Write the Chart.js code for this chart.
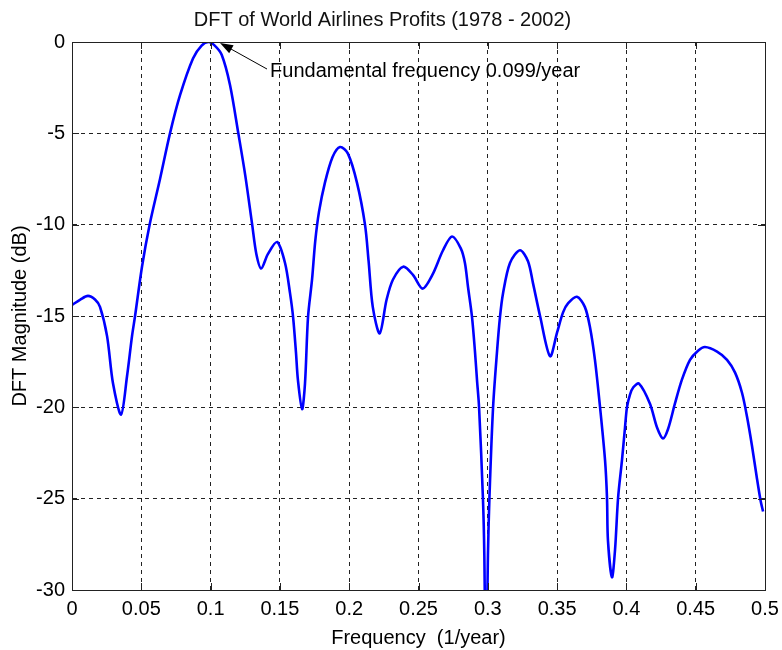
<!DOCTYPE html>
<html>
<head>
<meta charset="utf-8">
<script src="https://cdn.jsdelivr.net/npm/chart.js@4/dist/chart.umd.min.js"></script>
<style>
	html, body { margin: 0; padding: 0; background: #fff; }
	canvas { display: block; }
</style>
</head>
<body>
<canvas id="chart" width="782" height="650"></canvas>
<script>
// frequency (1/year) and DFT magnitude (dB)
let freq = [0, 0.006, 0.0115, 0.0166, 0.0202, 0.0253, 0.0296, 0.0354, 0.0397, 0.0433,
	0.0455, 0.0505, 0.056, 0.0635, 0.0707, 0.078, 0.0873, 0.0935,
	0.0985, 0.103, 0.108, 0.114, 0.12, 0.125, 0.13, 0.133, 0.1365, 0.1414,
	0.148, 0.1537, 0.1573, 0.1595, 0.1616, 0.163, 0.166, 0.1681, 0.1703, 0.1732,
	0.1755, 0.1782, 0.1825, 0.188, 0.1934, 0.199, 0.2056, 0.2114, 0.214, 0.217,
	0.222, 0.227, 0.2316, 0.239, 0.246, 0.253, 0.26, 0.2677, 0.2742, 0.2805,
	0.2835, 0.2857, 0.2886, 0.2908, 0.2922, 0.2937, 0.2965, 0.2975, 0.2987, 0.3001,
	0.3012, 0.3038, 0.3066, 0.3088, 0.311, 0.316, 0.3232, 0.329, 0.3326, 0.3377,
	0.3449, 0.35, 0.3543, 0.358, 0.3643, 0.370, 0.3737, 0.3773, 0.381, 0.3846,
	0.386, 0.3867, 0.3896, 0.3918, 0.394, 0.3968, 0.399, 0.4004, 0.4026, 0.405,
	0.4091, 0.417, 0.4221, 0.4264, 0.43, 0.435, 0.44, 0.4459, 0.4517, 0.4567,
	0.4654, 0.4726, 0.4784, 0.4834, 0.487, 0.4906, 0.494, 0.4968, 0.4986];
let magDb = [-14.4, -14.1, -13.9, -14.1, -14.5, -16.1, -18.7, -20.4, -18.3, -16.1,
	-15.0, -12.3, -10.0, -7.5, -5.0, -2.9, -0.9, -0.2,
	0, -0.2, -0.7, -2.35, -5.0, -7.3, -10.0, -11.6, -12.4, -11.6,
	-10.95, -12.1, -13.75, -15.05, -17.0, -18.5, -20.1, -18.7, -15.05, -13.0,
	-10.9, -9.3, -7.7, -6.3, -5.75, -6.1, -7.7, -10.0, -12.0, -14.5,
	-15.95, -14.1, -13.0, -12.3, -12.75, -13.5, -12.75, -11.4, -10.65, -11.3,
	-12.1, -13.4, -15.05, -17.0, -18.5, -20.0, -25.0, -28.1, -36, -28.1,
	-24.9, -20.0, -17.0, -15.05, -13.75, -12.1, -11.4, -12.0, -13.2, -15.0,
	-17.2, -15.9, -14.8, -14.3, -13.95, -14.5, -15.6, -17.4, -20.0, -22.9,
	-24.95, -27.3, -29.3, -27.8, -24.95, -22.9, -21.1, -20.0, -19.3, -18.9,
	-18.7, -19.8, -21.1, -21.7, -21.2, -19.8, -18.5, -17.4, -16.9, -16.7,
	-16.95, -17.4, -18.1, -19.2, -20.5, -22.1, -23.8, -25.1, -25.7];

let xTicks = [0, 0.05, 0.1, 0.15, 0.2, 0.25, 0.3, 0.35, 0.4, 0.45, 0.5];
let yTicks = [0, -5, -10, -15, -20, -25, -30];

let noteText = "Fundamental frequency 0.099/year";
let noteTip = {x: 0.1068, y: -0.05};
let noteTail = {x: 0.1407, y: -1.48};
let noteAt = {x: 0.1429, y: -1.64};

let points = [];
for(let i = 0; i < freq.length; i++){
	points.push({x: freq[i], y: magDb[i]});
}

const FONT = "'Liberation Sans', Arial, sans-serif";
Chart.defaults.font.family = FONT;
Chart.defaults.color = '#000';

// box around the plot with small inward ticks, plus the arrow note
const frame = {
	id: 'frame',
	afterDatasetsDraw(chart) {
		let ctx = chart.ctx;
		let a = chart.chartArea;
		let xs = chart.scales.x, ys = chart.scales.y;
		ctx.save();
		ctx.strokeStyle = '#222';
		ctx.lineWidth = 1;
		ctx.setLineDash([]);
		ctx.strokeRect(a.left + 0.5, a.top + 0.5, a.right - a.left, a.bottom - a.top);
		ctx.beginPath();
		for(let v of xTicks){
			let px = Math.round(xs.getPixelForValue(v)) + 0.5;
			ctx.moveTo(px, a.bottom); ctx.lineTo(px, a.bottom - 7);
			ctx.moveTo(px, a.top); ctx.lineTo(px, a.top + 7);
		}
		for(let v of yTicks){
			let py = Math.round(ys.getPixelForValue(v)) + 0.5;
			ctx.moveTo(a.left, py); ctx.lineTo(a.left + 7, py);
			ctx.moveTo(a.right, py); ctx.lineTo(a.right - 7, py);
		}
		ctx.stroke();

		// arrow
		let tx = xs.getPixelForValue(noteTip.x), ty = ys.getPixelForValue(noteTip.y);
		let sx = xs.getPixelForValue(noteTail.x), sy = ys.getPixelForValue(noteTail.y);
		let ang = Math.atan2(ty - sy, tx - sx);
		ctx.strokeStyle = '#000';
		ctx.fillStyle = '#000';
		ctx.beginPath();
		ctx.moveTo(sx, sy);
		ctx.lineTo(tx - 10 * Math.cos(ang), ty - 10 * Math.sin(ang));
		ctx.stroke();
		ctx.beginPath();
		ctx.moveTo(tx, ty);
		ctx.lineTo(tx - 13 * Math.cos(ang) + 4.5 * Math.sin(ang), ty - 13 * Math.sin(ang) - 4.5 * Math.cos(ang));
		ctx.lineTo(tx - 13 * Math.cos(ang) - 4.5 * Math.sin(ang), ty - 13 * Math.sin(ang) + 4.5 * Math.cos(ang));
		ctx.closePath();
		ctx.fill();

		ctx.font = '20px ' + FONT;
		ctx.textAlign = 'left';
		ctx.textBaseline = 'middle';
		ctx.fillText(noteText, xs.getPixelForValue(noteAt.x), ys.getPixelForValue(noteAt.y));
		ctx.restore();
	}
};

const whiteBg = {
	id: 'whiteBg',
	beforeDraw(chart) {
		let ctx = chart.ctx;
		ctx.save();
		ctx.fillStyle = '#fff';
		ctx.fillRect(0, 0, chart.width, chart.height);
		ctx.restore();
	}
};

let ctx = document.getElementById('chart').getContext('2d');
let chart = new Chart(ctx, {
	type: 'line',
	data: {
		datasets: [{
			label: 'DFT magnitude',
			data: points,
			borderColor: '#0000ff',
			backgroundColor: '#0000ff',
			borderWidth: 2.6,
			pointRadius: 0,
			tension: 0.3,
			fill: false
		}]
	},
	options: {
		responsive: false,
		animation: false,
		layout: { padding: { left: 0, right: 17, top: 0, bottom: 0 } },
		plugins: {
			legend: { display: false },
			tooltip: { enabled: false },
			title: {
				display: true,
				text: 'DFT of World Airlines Profits (1978 - 2002)',
				color: '#111',
				font: { size: 20, weight: 'normal' },
				padding: { top: 8, bottom: 10 }
			}
		},
		scales: {
			x: {
				type: 'linear',
				min: 0,
				max: 0.5,
				afterBuildTicks: (scale) => { scale.ticks = xTicks.map((v) => ({value: v})); },
				afterFit: (scale) => {
					scale.height = 60;
					scale.paddingLeft = 0;
					scale.paddingRight = 0;
				},
				ticks: {
					padding: 7,
					font: { size: 20 },
					maxRotation: 0,
					callback: (v) => String(v)
				},
				grid: { color: '#222', lineWidth: 1, drawTicks: false },
				border: { display: true, color: '#222', dash: [4, 4] },
				title: {
					display: true,
					text: 'Frequency  (1/year)',
					font: { size: 20 },
					padding: { top: 4, bottom: 0 }
				}
			},
			y: {
				type: 'linear',
				min: -30,
				max: 0,
				afterBuildTicks: (scale) => { scale.ticks = yTicks.map((v) => ({value: v})); },
				afterFit: (scale) => { scale.width = 72; },
				ticks: {
					padding: 7,
					font: { size: 20 },
					callback: (v) => String(v)
				},
				grid: { color: '#222', lineWidth: 1, drawTicks: false },
				border: { display: true, color: '#222', dash: [4, 4] },
				title: {
					display: true,
					text: 'DFT Magnitude (dB)',
					font: { size: 20 },
					padding: { top: 8, bottom: 0 }
				}
			}
		}
	},
	plugins: [whiteBg, frame]
});
</script>
</body>
</html>
